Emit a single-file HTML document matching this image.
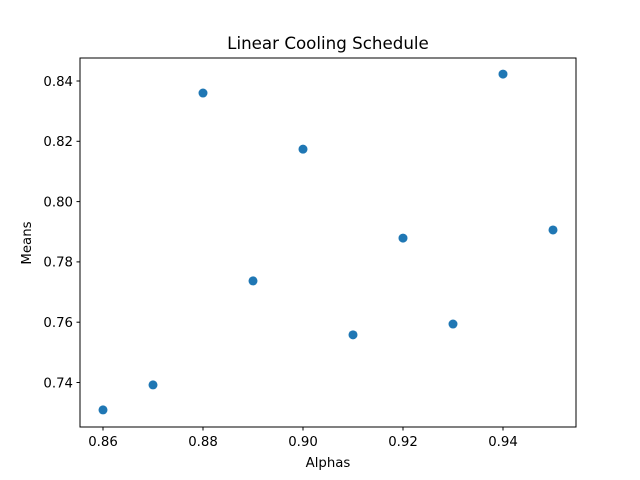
<!DOCTYPE html>
<html><head><meta charset="utf-8"><style>
body{margin:0;background:#fff;}
svg{display:block;font-family:"DejaVu Sans","Liberation Sans",sans-serif;}
</style></head><body>
<svg id="chart" width="640" height="480">
<rect x="0" y="0" width="640" height="480" fill="#fff"/>
<text x="328" y="49" font-size="16.7" text-anchor="middle" fill="#000">Linear Cooling Schedule</text>
<g id="xticks"></g><g id="yticks"></g><g id="points"></g>
<rect x="80" y="58" width="496" height="369" fill="none" stroke="#000" stroke-width="1"/>
<text x="328" y="467" font-size="13.3" text-anchor="middle">Alphas</text>
<text x="31" y="243" font-size="13.3" text-anchor="middle" transform="rotate(-90 31 243)">Means</text>
</svg>
<script>
const alphas=[0.86,0.87,0.88,0.89,0.90,0.91,0.92,0.93,0.94,0.95];
const means=[0.7309,0.7392,0.836,0.7737,0.8174,0.7558,0.7879,0.7594,0.8423,0.7906];
const xTicks=[0.86,0.88,0.90,0.92,0.94];
const yTicks=[0.74,0.76,0.78,0.80,0.82,0.84];
const NS='http://www.w3.org/2000/svg';
function xs(v){return 103+(v-0.86)*5000;}
function ys(v){return 81+(0.84-v)*3015;}
function mk(t,a,p){const e=document.createElementNS(NS,t);for(const k in a)e.setAttribute(k,a[k]);p.appendChild(e);return e;}
const xg=document.getElementById('xticks'),yg=document.getElementById('yticks'),pg=document.getElementById('points');
xTicks.forEach(v=>{const x=xs(v);
const l=mk('line',{x1:x,x2:x,y1:427,y2:430.5,stroke:'#000'},xg);


const t=mk('text',{x:x,y:446,'font-size':13.3,'text-anchor':'middle'},xg);t.textContent=v.toFixed(2);

});
yTicks.forEach(v=>{const y=ys(v);
const l=mk('line',{x1:76.5,x2:80,y1:y,y2:y,stroke:'#000'},yg);


const t=mk('text',{x:73,y:y+4.8,'font-size':13.3,'text-anchor':'end'},yg);t.textContent=v.toFixed(2);

});
alphas.forEach((a,i)=>{const c=mk('circle',{cx:xs(a),cy:ys(means[i]),r:4.5,fill:'#1f77b4'},pg);

});
</script>
</body></html>
